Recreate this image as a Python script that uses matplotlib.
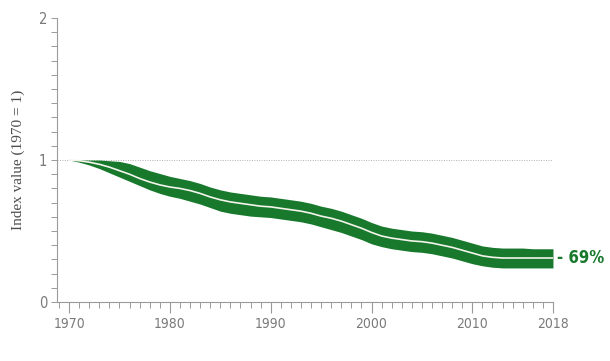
"""Living Planet style index chart: index value relative to 1970 with confidence band."""

import matplotlib

matplotlib.use("Agg")

import matplotlib.pyplot as plt
from matplotlib.ticker import MultipleLocator


YEARS = list(range(1970, 2019))
INDEX_CENTER = [
    1.00, 0.995, 0.985, 0.97, 0.95, 0.925, 0.90, 0.87, 0.845, 0.825,
    0.81, 0.80, 0.785, 0.765, 0.74, 0.72, 0.705, 0.695, 0.685, 0.675,
    0.67, 0.66, 0.65, 0.64, 0.625, 0.605, 0.59, 0.57, 0.545, 0.52,
    0.49, 0.465, 0.45, 0.44, 0.43, 0.425, 0.415, 0.40, 0.385, 0.365,
    0.345, 0.325, 0.315, 0.31, 0.31, 0.31, 0.31, 0.31, 0.31,
]
INDEX_UPPER = [
    1.00, 1.00, 1.00, 1.00, 0.995, 0.99, 0.975, 0.95, 0.925, 0.905,
    0.885, 0.87, 0.855, 0.835, 0.81, 0.79, 0.775, 0.765, 0.755, 0.745,
    0.74, 0.73, 0.72, 0.71, 0.695, 0.675, 0.66, 0.64, 0.615, 0.59,
    0.56, 0.535, 0.52, 0.51, 0.50, 0.495, 0.485, 0.47, 0.455, 0.435,
    0.415, 0.395, 0.385, 0.38, 0.38, 0.38, 0.375, 0.375, 0.375,
]
INDEX_LOWER = [
    1.00, 0.985, 0.965, 0.94, 0.91, 0.88, 0.85, 0.82, 0.79, 0.765,
    0.745, 0.73, 0.71, 0.69, 0.665, 0.64, 0.625, 0.615, 0.605, 0.60,
    0.595, 0.585, 0.575, 0.565, 0.55, 0.53, 0.51, 0.49, 0.465, 0.44,
    0.41, 0.39, 0.375, 0.365, 0.355, 0.35, 0.34, 0.325, 0.31, 0.29,
    0.27, 0.255, 0.245, 0.24, 0.24, 0.24, 0.24, 0.24, 0.24,
]
X_TICKS = [1970, 1980, 1990, 2000, 2010, 2018]
Y_TICKS = [0, 1, 2]
END_LABEL = "- 69%"

GREEN = "#18792d"
AXIS_GREY = "#9a9a9a"
TEXT_GREY = "#7a7a7a"
TICK_FONT = "DejaVu Sans"


fig = plt.figure(figsize=(6.1, 3.61), dpi=100)
ax = fig.add_axes([0.0934, 0.1634, 0.8131, 0.7866])

ax.fill_between(YEARS, INDEX_LOWER, INDEX_UPPER, color=GREEN, linewidth=0, zorder=2)
ax.plot(YEARS, INDEX_CENTER, color="#f4f4ec", linewidth=1.2, zorder=3)
ax.plot([1968.8, 2018], [1, 1], color="#b0b0b0", linewidth=0.7, linestyle=(0, (1, 1.5)), zorder=1)

ax.set_xlim(1968.8, 2018)
ax.set_ylim(0, 2)

for side in ("top", "right"):
    ax.spines[side].set_visible(False)
for side in ("left", "bottom"):
    ax.spines[side].set_color(AXIS_GREY)
    ax.spines[side].set_linewidth(0.8)

ax.set_xticks(X_TICKS)
ax.set_xticklabels([str(year) for year in X_TICKS])
ax.xaxis.set_minor_locator(MultipleLocator(1))
ax.set_yticks(Y_TICKS)
ax.set_yticklabels([str(value) for value in Y_TICKS])
ax.yaxis.set_minor_locator(MultipleLocator(0.1))

ax.tick_params(axis="x", which="major", length=8, width=0.8, color=AXIS_GREY,
               labelcolor=TEXT_GREY, labelsize=10, pad=3)
ax.tick_params(axis="x", which="minor", length=4, width=0.7, color=AXIS_GREY)
ax.tick_params(axis="y", which="both", length=4, width=0.7, color=AXIS_GREY,
               labelcolor=TEXT_GREY, labelsize=10.5, pad=3)
for label in ax.get_xticklabels() + ax.get_yticklabels():
    label.set_family(TICK_FONT)
    label.set_stretch("condensed")

ax.set_ylabel("Index value (1970 = 1)", family=["Liberation Serif", "DejaVu Serif"],
              fontsize=11, color="#4d4d4d", labelpad=10)

ax.annotate(END_LABEL, xy=(2018, INDEX_CENTER[-1]), xytext=(3, 0), textcoords="offset points",
            ha="left", va="center", color=GREEN, fontsize=12, family=TICK_FONT,
            stretch="condensed", weight="bold", annotation_clip=False)

fig.savefig("out.png", dpi=100)
